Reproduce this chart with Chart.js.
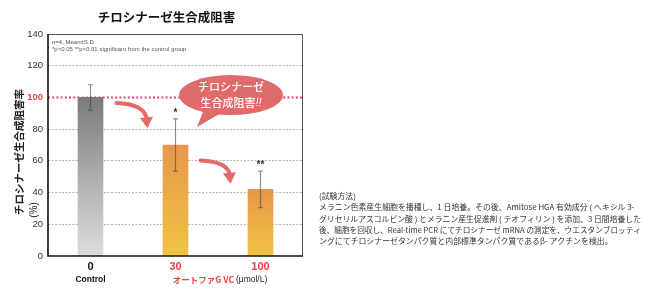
<!DOCTYPE html>
<html>
<head>
<meta charset="utf-8">
<script src="https://cdn.jsdelivr.net/npm/chart.js@4"></script>
<style>
  html, body { margin: 0; padding: 0; background: #fff; }
  #wrap { position: relative; width: 650px; height: 299px; }
</style>
</head>
<body>
<div id="wrap"><canvas id="chart" width="650" height="299"></canvas></div>
<script>
// Data
const categories = ['0', '30', '100'];
const subLabels = ['Control'];
const inhibition = [100, 70, 42];
const stdDev = [8, 16.5, 11.5];
const significance = ['', '*', '**'];
const yTicks = [0, 20, 40, 60, 80, 100, 120, 140];

const JP = '"Noto Sans CJK JP", sans-serif';
const LAT = '"Liberation Sans", Arial, sans-serif';
const RED = '#e8434a';

const methodLines = [
    '(試験方法)',
    'メラニン色素産生細胞を播種し、1 日培養。その後、Amitose HGA 有効成分 ( ヘキシル 3-',
    'グリセリルアスコルビン酸 ) とメラニン産生促進剤 ( テオフィリン ) を添加、3 日間培養した',
    '後、細胞を回収し、Real-time PCR にてチロシナーゼ mRNA の測定を、ウエスタンブロッティ',
    'ングにてチロシナーゼタンパク質と内部標準タンパク質であるβ- アクチンを検出。'
];

function barGradient(ctx) {
    const chart = ctx.chart;
    if (!chart.chartArea || ctx.raw === undefined) return '#e99a4a';
    const y = chart.scales.y;
    const top = y.getPixelForValue(ctx.raw);
    const bottom = y.getPixelForValue(0);
    const g = chart.ctx.createLinearGradient(0, top, 0, bottom);
    if (ctx.dataIndex === 0) {
        g.addColorStop(0, '#7b7b7b');
        g.addColorStop(1, '#dedede');
    } else {
        g.addColorStop(0, '#e8974b');
        g.addColorStop(1, '#efc343');
    }
    return g;
}

function drawArrow(c, sx, sy, tx, ty) {
    c.save();
    c.strokeStyle = '#e46a6a';
    c.fillStyle = '#e46a6a';
    c.lineWidth = 4;
    c.lineCap = 'round';
    const cx = tx - 2, cy = sy + 1;
    const ex = tx - 0.5, ey = ty - 8;
    c.beginPath();
    c.moveTo(sx, sy);
    c.quadraticCurveTo(cx, cy, ex, ey);
    c.stroke();
    // arrow head
    const ang = Math.atan2(ey - cy, ex - cx);
    c.translate(tx, ty);
    c.rotate(ang);
    c.beginPath();
    c.moveTo(0, 0);
    c.lineTo(-11, -6.5);
    c.lineTo(-11, 6.5);
    c.closePath();
    c.fill();
    c.restore();
}

const decorations = {
    id: 'decorations',
    beforeDatasetsDraw(chart) {
        const c = chart.ctx;
        const a = chart.chartArea;
        const y = chart.scales.y;
        // red dotted line at 100
        c.save();
        c.strokeStyle = '#e2407a';
        c.lineWidth = 2;
        c.setLineDash([2, 2.2]);
        c.beginPath();
        c.moveTo(a.left, y.getPixelForValue(100));
        c.lineTo(a.right, y.getPixelForValue(100));
        c.stroke();
        c.restore();
    },
    afterDatasetsDraw(chart) {
        const c = chart.ctx;
        const a = chart.chartArea;
        const x = chart.scales.x;
        const y = chart.scales.y;
        const meta = chart.getDatasetMeta(0);

        // error bars and significance marks
        inhibition.forEach((v, i) => {
            const px = meta.data[i].x;
            const top = y.getPixelForValue(v + stdDev[i]);
            const bot = y.getPixelForValue(v - stdDev[i]);
            c.save();
            c.strokeStyle = 'rgba(70,70,70,0.6)';
            c.lineWidth = 1.2;
            c.beginPath();
            c.moveTo(px, top); c.lineTo(px, bot);
            c.moveTo(px - 2.5, top); c.lineTo(px + 2.5, top);
            c.moveTo(px - 2.5, bot); c.lineTo(px + 2.5, bot);
            c.stroke();
            if (significance[i]) {
                c.fillStyle = '#333';
                c.font = 'bold 10px ' + LAT;
                c.textAlign = 'center';
                c.textBaseline = 'middle';
                c.fillText(significance[i], px, top - 6);
            }
            c.restore();
        });

        // frame
        c.save();
        c.strokeStyle = '#555';
        c.lineWidth = 1;
        c.beginPath();
        c.moveTo(a.left, a.top + 0.5); c.lineTo(a.right - 0.5, a.top + 0.5); c.lineTo(a.right - 0.5, a.bottom);
        c.stroke();
        c.strokeStyle = '#111';
        c.lineWidth = 1.6;
        c.beginPath();
        c.moveTo(a.left, a.top); c.lineTo(a.left, a.bottom); c.lineTo(a.right, a.bottom);
        c.stroke();
        c.restore();

        // arrows
        const x0 = x.getPixelForValue(0), x1 = x.getPixelForValue(1), x2 = x.getPixelForValue(2);
        drawArrow(c, x0 + 26, y.getPixelForValue(96.5), x1 - 28, y.getPixelForValue(80.5));
        drawArrow(c, x1 + 25, y.getPixelForValue(60.3), x2 - 30, y.getPixelForValue(45.5));

        // speech bubble
        const bx = (x1 + x2) / 2 + 13;
        const by = y.getPixelForValue(101.5);
        c.save();
        c.fillStyle = '#e06b6b';
        c.beginPath();
        c.ellipse(bx, by, 52, 20, 0, 0, Math.PI * 2);
        c.fill();
        c.beginPath();
        c.moveTo(bx - 26, by + 12);
        c.lineTo(bx - 10, by + 18);
        c.lineTo(bx - 34, by + 32);
        c.closePath();
        c.fill();
        c.fillStyle = '#fff';
        c.font = '500 11px ' + JP;
        c.textAlign = 'center';
        c.textBaseline = 'middle';
        c.fillText('チロシナーゼ', bx, by - 8);
        const main = '生合成阻害';
        const w1 = c.measureText(main).width;
        c.font = 'italic 11px ' + LAT;
        const w2 = c.measureText('!!').width;
        const sx = bx - (w1 + w2) / 2;
        c.textAlign = 'left';
        c.font = '500 11px ' + JP;
        c.fillText(main, sx, by + 8);
        c.font = 'italic 11px ' + LAT;
        c.fillText('!!', sx + w1, by + 8);
        c.restore();

        // note inside the plot
        c.save();
        c.fillStyle = '#555';
        c.font = '6px ' + LAT;
        c.textBaseline = 'middle';
        c.fillText('n=4, Mean\u00b1S.D.', a.left + 4, a.top + 8);
        c.fillText('*p<0.05 **p<0.01 significant from the control group', a.left + 4, a.top + 15.5);
        c.restore();
    },
    afterDraw(chart) {
        const c = chart.ctx;
        const a = chart.chartArea;
        const x = chart.scales.x;

        // title
        c.save();
        c.fillStyle = '#111';
        c.font = 'bold 12.5px ' + JP;
        c.textAlign = 'center';
        c.textBaseline = 'middle';
        c.fillText('チロシナーゼ生合成阻害', (a.left + a.right) / 2 - 9, 17);
        c.restore();

        // y axis title
        c.save();
        c.fillStyle = '#222';
        c.font = 'bold 10.5px ' + JP;
        c.textAlign = 'center';
        c.textBaseline = 'middle';
        c.translate(19, 152);
        c.rotate(-Math.PI / 2);
        c.fillText('チロシナーゼ生合成阻害率', 0, 0);
        c.font = '10px ' + LAT;
        c.fillText('(%)', -58, 15);
        c.restore();

        // x labels
        c.save();
        c.textAlign = 'center';
        c.textBaseline = 'middle';
        categories.forEach((lab, i) => {
            const px = x.getPixelForValue(i);
            c.fillStyle = i === 0 ? '#111' : RED;
            c.font = 'bold 11px ' + LAT;
            c.fillText(lab, px, a.bottom + 11);
        });
        c.fillStyle = '#111';
        c.font = 'bold 8.5px ' + LAT;
        c.fillText(subLabels[0], x.getPixelForValue(0), a.bottom + 24);
        // unit label spanning the two treated bars
        const p1 = 'オートファG VC ';
        const p2 = '(\u03bcmol/L)';
        c.font = 'bold 8.5px ' + JP;
        const w1 = c.measureText(p1).width;
        c.font = '8.5px ' + LAT;
        const w2 = c.measureText(p2).width;
        const mid = (x.getPixelForValue(1) + x.getPixelForValue(2)) / 2 + 2;
        const sx = mid - (w1 + w2) / 2;
        c.textAlign = 'left';
        c.fillStyle = RED;
        c.font = 'bold 8.5px ' + JP;
        c.fillText(p1, sx, a.bottom + 24);
        c.fillStyle = '#222';
        c.font = '8.5px ' + LAT;
        c.fillText(p2, sx + w1, a.bottom + 24);
        c.restore();

        // test method text block
        c.save();
        c.fillStyle = '#333';
        c.font = '7.9px ' + JP;
        c.textBaseline = 'middle';
        methodLines.forEach((line, i) => {
            c.fillText(line, 319, 196 + i * 11.3, 322);
        });
        c.restore();
    }
};

new Chart(document.getElementById('chart'), {
    type: 'bar',
    data: {
        labels: categories,
        datasets: [{
            data: inhibition,
            backgroundColor: barGradient,
            borderWidth: 0,
            barThickness: 25
        }]
    },
    options: {
        responsive: false,
        animation: false,
        layout: { padding: { top: 34, right: 347, bottom: 0, left: 0 } },
        plugins: {
            legend: { display: false },
            tooltip: { enabled: false }
        },
        scales: {
            x: {
                grid: { display: false },
                border: { display: false },
                ticks: { display: false },
                afterFit: (s) => { s.height = 43; }
            },
            y: {
                min: 0,
                max: 140,
                afterFit: (s) => { s.width = 48; },
                afterBuildTicks: (s) => { s.ticks = yTicks.map(v => ({ value: v })); },
                border: { display: false, dash: [2, 1.5] },
                grid: {
                    drawTicks: false,
                    lineWidth: 1,
                    color: (ctx) => [0, 100, 140].includes(ctx.tick && ctx.tick.value) ? 'rgba(0,0,0,0)' : '#b5b5b5'
                },
                ticks: {
                    padding: 5,
                    font: (ctx) => ({ family: LAT, size: 9.5, weight: ctx.tick && ctx.tick.value === 100 ? 'bold' : 'normal' }),
                    color: (ctx) => ctx.tick && ctx.tick.value === 100 ? RED : '#333'
                }
            }
        }
    },
    plugins: [decorations]
});
</script>
</body>
</html>
